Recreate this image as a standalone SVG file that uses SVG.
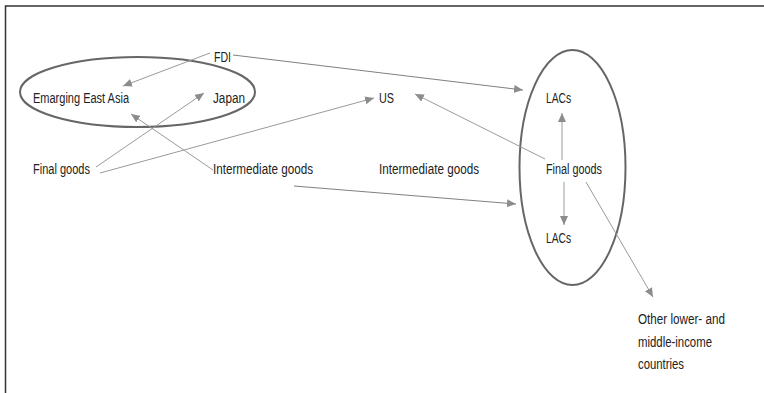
<svg xmlns="http://www.w3.org/2000/svg" width="764" height="393" viewBox="0 0 764 393">
<defs>
<marker id="ah" markerUnits="userSpaceOnUse" markerWidth="10" markerHeight="8" refX="9" refY="4" orient="auto">
<path d="M0,0 L9,4 L0,8 Z" fill="#8c8c8c"/>
</marker>
<style>
text{font-family:"Liberation Sans",Arial,sans-serif;font-size:14px;fill:#222}
.c{fill:none;stroke:#9a9a9a;stroke-width:1;marker-end:url(#ah)}
.d{stroke:#808080}
.e{fill:none;stroke:#666;stroke-width:2}
</style>
</defs>
<rect width="764" height="393" fill="#fff"/>
<g id="frame"><path d="M5.5,393 V6 H764" fill="none" stroke="#333" stroke-width="1.5"/></g>
<g id="ellipses">
<ellipse class="e" cx="137.5" cy="92" rx="117.5" ry="35"/>
<ellipse class="e" cx="572.5" cy="167.5" rx="53" ry="117.5"/>
</g>
<g id="connectors">
<line class="c" x1="210" y1="53" x2="123" y2="86"/>
<line class="c d" x1="233" y1="55" x2="523" y2="90"/>
<line class="c" x1="96" y1="167" x2="204" y2="93"/>
<line class="c" x1="100" y1="173" x2="374" y2="98"/>
<line class="c" x1="213" y1="170" x2="131" y2="114"/>
<line class="c d" x1="294" y1="186" x2="516" y2="204"/>
<line class="c" x1="545" y1="159" x2="415" y2="94"/>
<line class="c" x1="562" y1="160" x2="562" y2="113"/>
<line class="c" x1="564" y1="182" x2="564" y2="225"/>
<line class="c" x1="586" y1="182" x2="653" y2="297"/>
</g>
<g id="n-fdi"><text x="214" y="62" textLength="17" lengthAdjust="spacingAndGlyphs">FDI</text></g>
<g id="n-eea"><text x="33" y="103" textLength="96" lengthAdjust="spacingAndGlyphs">Emarging East Asia</text></g>
<g id="n-japan"><text x="213" y="103" textLength="32" lengthAdjust="spacingAndGlyphs">Japan</text></g>
<g id="n-us"><text x="379" y="103" textLength="15" lengthAdjust="spacingAndGlyphs">US</text></g>
<g id="n-lacs1"><text x="546" y="103" textLength="25" lengthAdjust="spacingAndGlyphs">LACs</text></g>
<g id="n-final1"><text x="33" y="174" textLength="57" lengthAdjust="spacingAndGlyphs">Final goods</text></g>
<g id="n-inter1"><text x="213" y="174" textLength="100" lengthAdjust="spacingAndGlyphs">Intermediate goods</text></g>
<g id="n-inter2"><text x="379" y="174" textLength="100" lengthAdjust="spacingAndGlyphs">Intermediate goods</text></g>
<g id="n-final2"><text x="546" y="174" textLength="56" lengthAdjust="spacingAndGlyphs">Final goods</text></g>
<g id="n-lacs2"><text x="546" y="243" textLength="25" lengthAdjust="spacingAndGlyphs">LACs</text></g>
<g id="n-other">
<text x="638" y="324" textLength="87" lengthAdjust="spacingAndGlyphs">Other lower- and</text>
<text x="638" y="347" textLength="74" lengthAdjust="spacingAndGlyphs">middle-income</text>
<text x="638" y="369" textLength="46" lengthAdjust="spacingAndGlyphs">countries</text>
</g>
</svg>
